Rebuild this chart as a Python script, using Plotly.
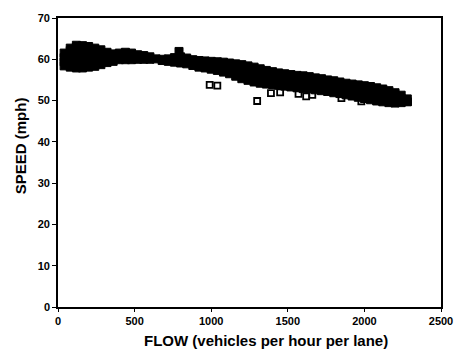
import plotly.graph_objects as go

flow = [
    40, 40, 40, 40,
    80, 80, 80, 80, 80, 80,
    120, 120, 120, 120, 120, 120, 120,
    160, 160, 160, 160, 160, 160, 160,
    200, 200, 200, 200, 200, 200,
    240, 240, 240, 240, 240, 240,
    280, 280, 280, 280, 280,
    320, 320, 320, 320,
    360, 360, 360,
    400, 400, 400,
    440, 440, 440,
    480, 480, 480,
    520, 520, 520,
    560, 560,
    600, 600,
    640,
    680, 680,
    720, 720,
    760, 760,
    800, 800, 800, 790,
    840, 840, 840,
    880, 880, 880,
    920, 920, 920,
    960, 960, 960,
    1000, 1000, 1000,
    1040, 1040, 1040,
    1080, 1080, 1080, 1080,
    1120, 1120, 1120, 1120,
    1160, 1160, 1160, 1160,
    1200, 1200, 1200, 1200, 1200,
    1240, 1240, 1240, 1240, 1240,
    1280, 1280, 1280, 1280, 1280,
    1320, 1320, 1320, 1320, 1320,
    1360, 1360, 1360, 1360, 1360,
    1400, 1400, 1400, 1400,
    1440, 1440, 1440, 1440,
    1480, 1480, 1480, 1480,
    1520, 1520, 1520, 1520,
    1560, 1560, 1560, 1560,
    1600, 1600, 1600, 1600,
    1640, 1640, 1640, 1640,
    1680, 1680, 1680, 1680,
    1720, 1720, 1720, 1720,
    1760, 1760, 1760, 1760,
    1800, 1800, 1800, 1800,
    1840, 1840, 1840, 1840,
    1880, 1880, 1880, 1880,
    1920, 1920, 1920, 1920,
    1960, 1960, 1960, 1960,
    2000, 2000, 2000, 2000,
    2040, 2040, 2040, 2040,
    2080, 2080, 2080, 2080,
    2120, 2120, 2120, 2120,
    2160, 2160, 2160, 2160,
    2200, 2200, 2200, 2200,
    2240, 2240, 2240,
    2280, 2280,
]
speed = [
    58.4, 59.4, 60.4, 61.5,
    58.1, 59.1, 60.1, 61.1, 62.1, 62.7,
    57.9, 58.9, 59.9, 60.9, 61.9, 62.9, 63.4,
    57.9, 58.8, 59.8, 60.8, 61.8, 62.8, 63.3,
    58.1, 59.1, 60.1, 61.1, 62.1, 63.1,
    58.3, 59.3, 60.3, 61.3, 62.3, 62.7,
    58.7, 59.7, 60.7, 61.7, 62.3,
    59.2, 60.2, 61.2, 61.7,
    59.5, 60.4, 61.3,
    59.9, 60.7, 61.5,
    59.9, 60.8, 61.7,
    59.9, 60.7, 61.5,
    60.0, 60.6, 61.1,
    60.0, 60.9,
    60.0, 60.6,
    60.1,
    59.7, 60.0,
    59.5, 60.1,
    59.3, 60.4,
    59.1, 60.1, 60.6, 61.9,
    58.9, 59.9, 60.3,
    58.5, 59.5, 59.9,
    58.1, 59.0, 59.7,
    57.9, 58.8, 59.6,
    57.6, 58.6, 59.5,
    57.3, 58.3, 59.4,
    56.9, 57.9, 58.9, 59.3,
    56.5, 57.5, 58.5, 59.1,
    55.9, 56.9, 57.9, 58.9,
    55.3, 56.3, 57.3, 58.3, 58.7,
    54.9, 55.9, 56.9, 57.9, 58.4,
    54.5, 55.5, 56.5, 57.5, 58.1,
    54.2, 55.2, 56.2, 57.2, 57.7,
    54.0, 55.0, 56.0, 57.0, 57.3,
    53.9, 54.9, 55.9, 57.0,
    53.7, 54.7, 55.7, 56.7,
    53.5, 54.5, 55.5, 56.5,
    53.3, 54.3, 55.3, 56.3,
    53.1, 54.1, 55.1, 56.1,
    52.9, 53.9, 54.9, 56.0,
    52.8, 53.8, 54.8, 55.8,
    52.6, 53.6, 54.6, 55.5,
    52.4, 53.4, 54.4, 55.3,
    52.2, 53.2, 54.2, 55.0,
    51.9, 52.9, 53.9, 54.8,
    51.7, 52.7, 53.7, 54.5,
    51.4, 52.4, 53.4, 54.2,
    51.1, 52.1, 53.1, 54.0,
    50.8, 51.8, 52.8, 53.8,
    50.5, 51.5, 52.5, 53.6,
    50.2, 51.2, 52.2, 53.4,
    49.9, 50.9, 51.9, 53.1,
    49.7, 50.7, 51.7, 52.8,
    49.5, 50.5, 51.5, 52.4,
    49.4, 50.4, 51.4, 51.9,
    49.5, 50.5, 51.3,
    49.7, 50.4,
]

# Scattered points lying below the main band
flow_out = [990, 1040, 1300, 1390, 1450, 1570, 1620, 1660, 1850, 1980, 2285]
speed_out = [53.8, 53.6, 49.9, 51.8, 52.0, 51.6, 51.0, 51.4, 50.6, 49.8, 49.7]

x_ticks = [0, 500, 1000, 1500, 2000, 2500]
y_ticks = [0, 10, 20, 30, 40, 50, 60, 70]
x_title = "FLOW (vehicles per hour per lane)"
y_title = "SPEED (mph)"

FONT = "Liberation Sans, Arial, sans-serif"

fig = go.Figure()
fig.add_trace(go.Scatter(
    x=flow, y=speed, mode="markers",
    marker=dict(symbol="square", size=8, color="black",
                line=dict(color="black", width=1)),
    showlegend=False, hoverinfo="skip",
))
fig.add_trace(go.Scatter(
    x=flow_out, y=speed_out, mode="markers",
    marker=dict(symbol="square-open", size=6, color="black",
                line=dict(color="black", width=1.8)),
    showlegend=False, hoverinfo="skip",
))

fig.update_layout(
    width=465, height=357,
    margin=dict(l=58, r=20, t=12, b=50),
    paper_bgcolor="white", plot_bgcolor="white",
    font=dict(family=FONT, color="black"),
)
fig.update_xaxes(
    range=[0, 2500], tickvals=x_ticks, ticktext=[str(v) for v in x_ticks],
    showgrid=False, zeroline=False,
    showline=True, linecolor="black", linewidth=1.6, mirror=True,
    ticks="outside", ticklen=3, tickwidth=1.2, tickcolor="black",
    tickfont=dict(family=FONT, size=11, color="black", weight="bold"),
)
fig.update_yaxes(
    range=[0, 70], tickvals=y_ticks, ticktext=[str(v) for v in y_ticks],
    showgrid=False, zeroline=False,
    showline=True, linecolor="black", linewidth=1.6, mirror=True,
    ticks="outside", ticklen=4, tickwidth=1.2, tickcolor="black",
    tickfont=dict(family=FONT, size=11, color="black", weight="bold"),
)
fig.add_annotation(
    text=x_title, xref="paper", yref="paper", x=0.5426, y=-0.1153,
    xanchor="center", yanchor="middle", showarrow=False,
    font=dict(family=FONT, size=15, color="black", weight="bold"),
)
fig.add_annotation(
    text=y_title, xref="paper", yref="paper", x=-0.097, y=0.559,
    xanchor="center", yanchor="middle", showarrow=False, textangle=-90,
    font=dict(family=FONT, size=15, color="black", weight="bold"),
)

fig.write_html("out.html")
